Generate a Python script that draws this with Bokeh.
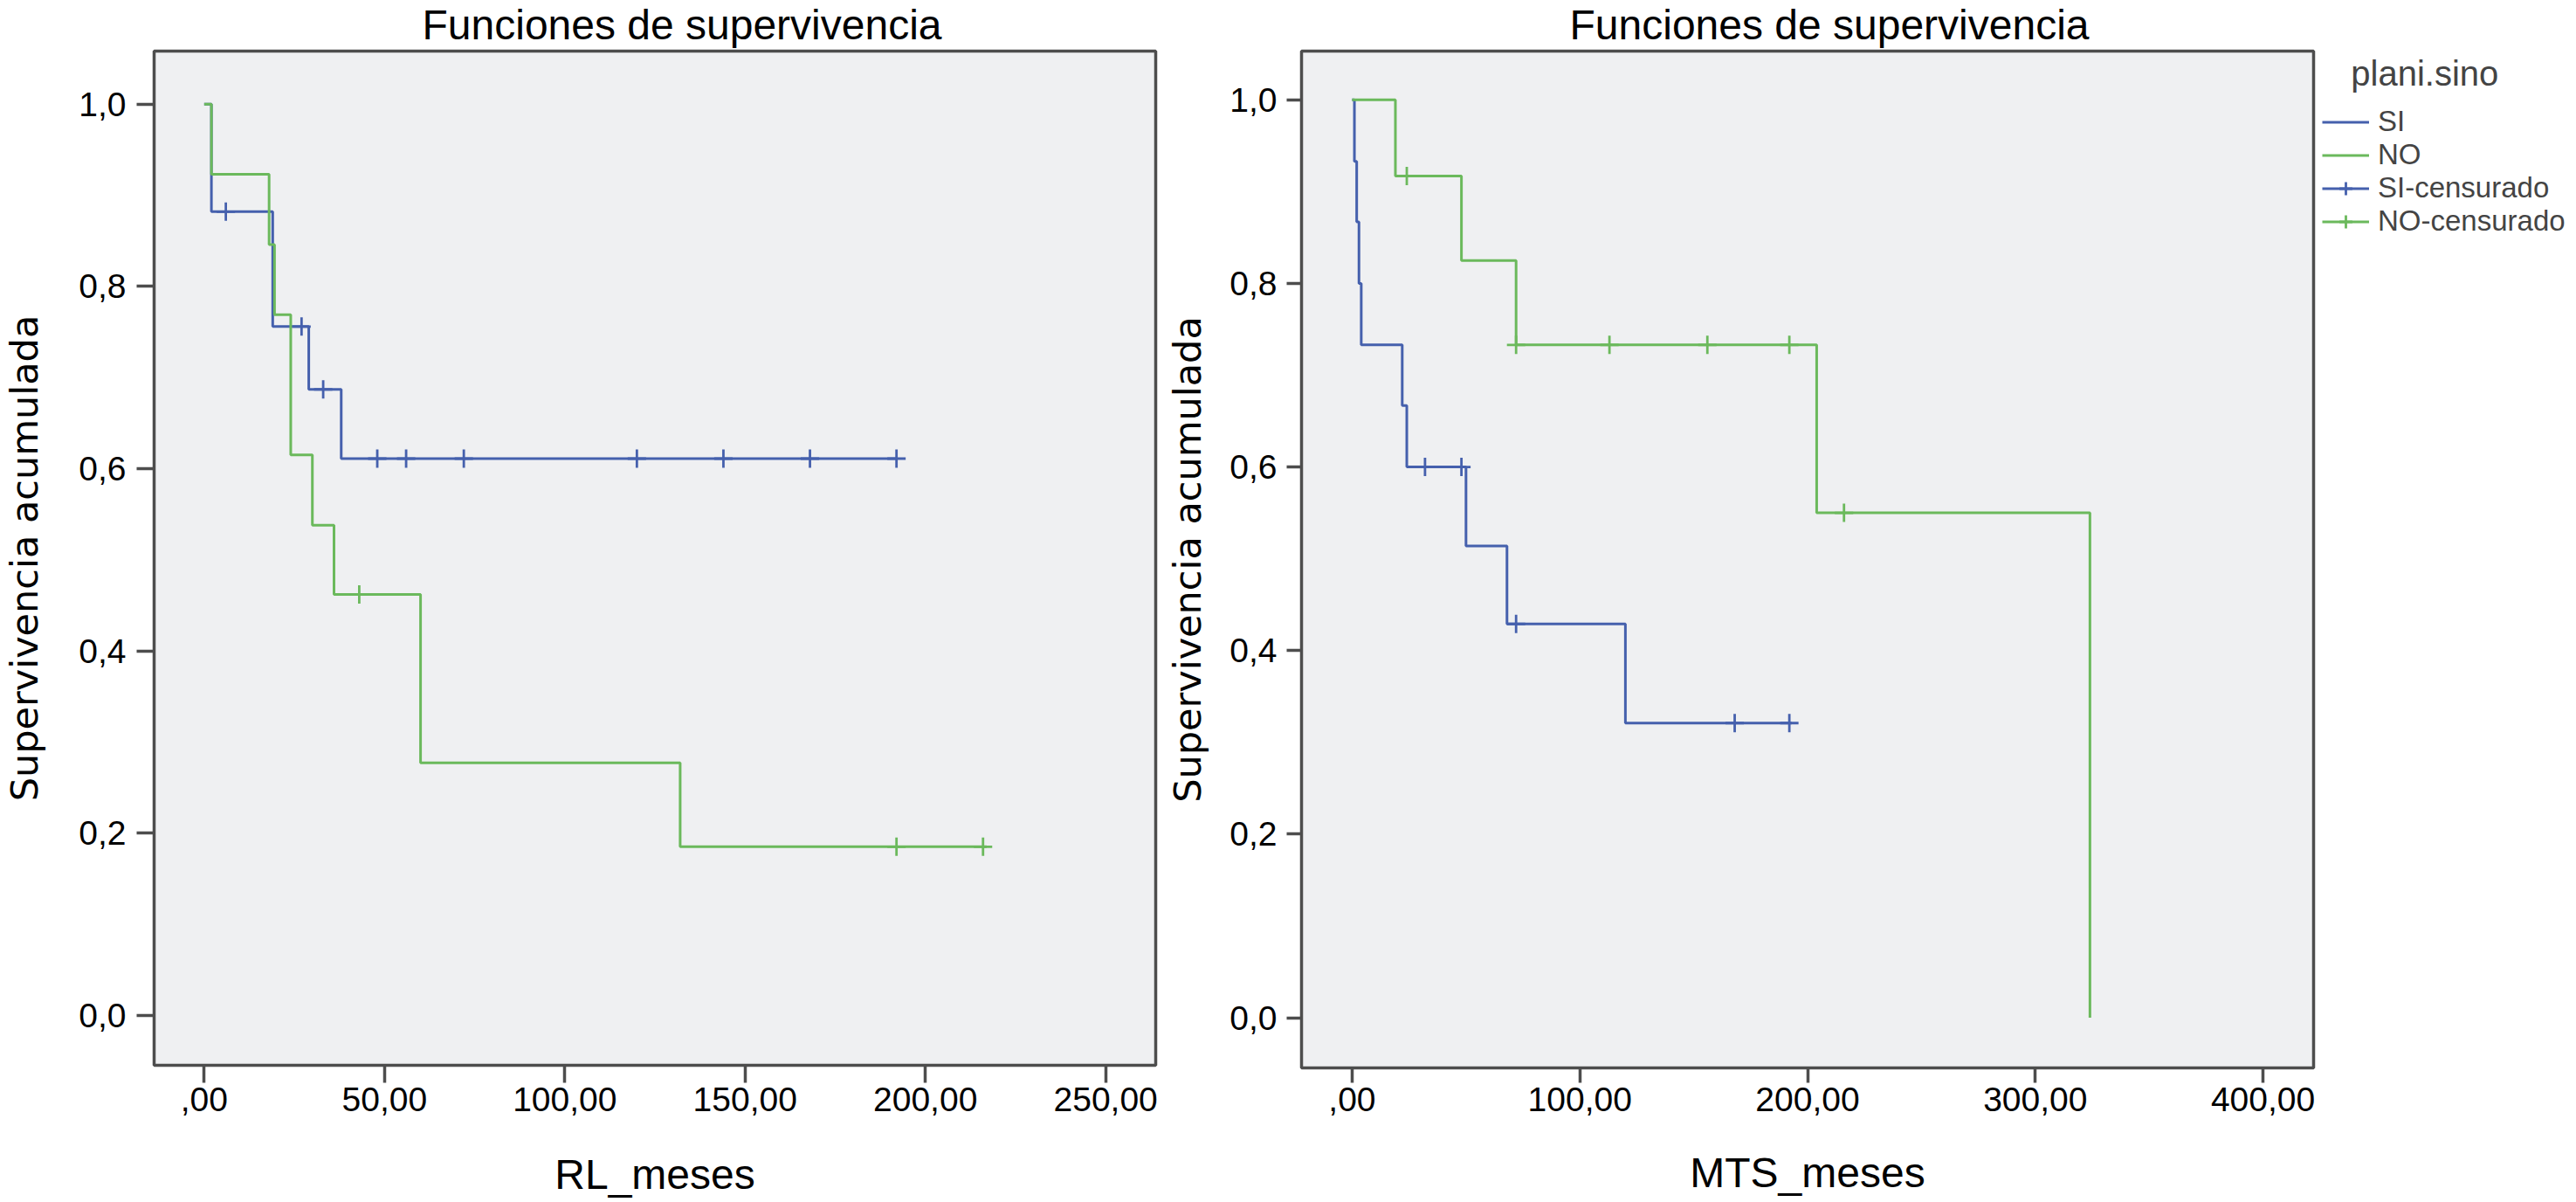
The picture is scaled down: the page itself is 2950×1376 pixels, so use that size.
from bokeh.plotting import figure
from bokeh.layouts import row
from bokeh.models import Legend, LegendItem, FixedTicker, Range1d
from bokeh.embed import file_html
from bokeh.resources import INLINE

# ---------------- data ----------------
# Left panel: RL_meses
rl_si_time = [0, 2, 19, 29, 38]
rl_si_surv = [1.0, 0.882, 0.756, 0.687, 0.611]
rl_si_last = 192
rl_si_cens_time = [6, 27, 33, 48, 56, 72, 120, 144, 168, 192]
rl_si_cens_surv = [0.882, 0.756, 0.687, 0.611, 0.611, 0.611, 0.611, 0.611, 0.611, 0.611]

rl_no_time = [0, 2, 18, 19.5, 24, 30, 36, 60, 132]
rl_no_surv = [1.0, 0.923, 0.846, 0.769, 0.615, 0.538, 0.462, 0.277, 0.185]
rl_no_last = 217
rl_no_cens_time = [43, 192, 216]
rl_no_cens_surv = [0.462, 0.185, 0.185]

# Right panel: MTS_meses
mts_si_time = [0, 1, 2, 3, 4, 22, 24, 50, 68, 120]
mts_si_surv = [1.0, 0.933, 0.867, 0.8, 0.733, 0.667, 0.6, 0.514, 0.429, 0.321]
mts_si_last = 193
mts_si_cens_time = [32, 48, 72, 168, 192]
mts_si_cens_surv = [0.6, 0.6, 0.429, 0.321, 0.321]

mts_no_time = [0, 19, 48, 72, 204, 324]
mts_no_surv = [1.0, 0.917, 0.825, 0.733, 0.55, 0.0]
mts_no_last = 324
mts_no_cens_time = [24, 72, 113, 156, 192, 216]
mts_no_cens_surv = [0.917, 0.733, 0.733, 0.733, 0.733, 0.55]

y_ticks = [0.0, 0.2, 0.4, 0.6, 0.8, 1.0]
y_tick_labels = ["0,0", "0,2", "0,4", "0,6", "0,8", "1,0"]
rl_x_ticks = [0, 50, 100, 150, 200, 250]
rl_x_tick_labels = [",00", "50,00", "100,00", "150,00", "200,00", "250,00"]
mts_x_ticks = [0, 100, 200, 300, 400]
mts_x_tick_labels = [",00", "100,00", "200,00", "300,00", "400,00"]

chart_title = "Funciones de supervivencia"
y_title = "Supervivencia acumulada"
rl_x_title = "RL_meses"
mts_x_title = "MTS_meses"
legend_title = "plani.sino"
group_names = ["SI", "NO"]

BLUE = "#4560AD"
GREEN = "#6BB95C"
DARK = "#4d4d4d"
BG = "#EFF0F2"
FONT = "Liberation Sans"


def make_fig(xmax, xticks, xlabels, xtitle, fw, fh, ylo, yhi, mb_left, mb_right, mb_bottom,
             tick_len, ylab_standoff, xlab_standoff, title_offset, title_standoff):
    pad_x = xmax / 18.0
    p = figure(frame_width=fw, frame_height=fh, output_backend="svg", toolbar_location=None,
               x_range=Range1d(-pad_x, xmax + pad_x), y_range=Range1d(ylo, yhi),
               min_border_left=mb_left, min_border_top=0, min_border_right=mb_right,
               min_border_bottom=mb_bottom)
    p.background_fill_color = BG
    p.border_fill_color = "white"
    p.outline_line_color = DARK
    p.outline_line_width = 3.5
    p.grid.visible = False

    p.title.text = chart_title
    p.title.text_font = FONT
    p.title.text_font_size = "48px"
    p.title.text_font_style = "normal"
    p.title.text_color = "black"
    p.title.align = "left"
    p.title.offset = title_offset
    p.title.vertical_align = "top"
    p.title.standoff = title_standoff

    p.xaxis.ticker = FixedTicker(ticks=xticks)
    p.xaxis.major_label_overrides = {t: l for t, l in zip(xticks, xlabels)}
    p.yaxis.ticker = FixedTicker(ticks=y_ticks)
    p.yaxis.major_label_overrides = {t: l for t, l in zip(y_ticks, y_tick_labels)}

    for ax in (p.xaxis[0], p.yaxis[0]):
        ax.axis_line_color = None
        ax.major_tick_in = 0
        ax.major_tick_out = tick_len
        ax.major_tick_line_color = DARK
        ax.major_tick_line_width = 3.5
        ax.minor_tick_line_color = None
        ax.major_label_text_font = FONT
        ax.major_label_text_font_size = "39px"
        ax.major_label_text_color = "black"
        ax.axis_label_text_font_style = "normal"
        ax.axis_label_text_color = "black"
    p.xaxis.major_label_standoff = 5
    p.yaxis.major_label_standoff = 12
    p.xaxis.axis_label = xtitle
    p.xaxis.axis_label_text_font = FONT
    p.xaxis.axis_label_text_font_size = "48px"
    p.xaxis.axis_label_standoff = xlab_standoff
    p.yaxis.axis_label = y_title
    p.yaxis.axis_label_text_font = "DejaVu Sans"
    p.yaxis.axis_label_text_font_size = "43px"
    p.yaxis.axis_label_standoff = ylab_standoff
    return p


def draw_group(p, time, surv, last, ctime, csurv, color):
    xs = list(time) + [last]
    ys = list(surv) + [surv[-1]]
    r_line = p.step(xs, ys, mode="after", line_color=color, line_width=3)
    r_cens = p.scatter(ctime, csurv, marker="cross", size=21, line_color=color, line_width=2.8)
    return r_line, r_cens


# ---------------- left figure ----------------
p1 = make_fig(250, rl_x_ticks, rl_x_tick_labels, rl_x_title, 1147, 1161, -0.0549, 1.0583,
              172, 7, 149, 20, 34, 43, 307, 3)
draw_group(p1, rl_si_time, rl_si_surv, rl_si_last, rl_si_cens_time, rl_si_cens_surv, BLUE)
draw_group(p1, rl_no_time, rl_no_surv, rl_no_last, rl_no_cens_time, rl_no_cens_surv, GREEN)

# ---------------- right figure ----------------
p2 = make_fig(400, mts_x_ticks, mts_x_tick_labels, mts_x_title, 1159, 1164, -0.0547, 1.0531,
              160, 290, 145, 17, 20, 41, 307, 3)
p2.yaxis.major_label_standoff = 11
s_line, s_cens = draw_group(p2, mts_si_time, mts_si_surv, mts_si_last,
                            mts_si_cens_time, mts_si_cens_surv, BLUE)
n_line, n_cens = draw_group(p2, mts_no_time, mts_no_surv, mts_no_last,
                            mts_no_cens_time, mts_no_cens_surv, GREEN)

legend = Legend(items=[
    LegendItem(label=group_names[0], renderers=[s_line]),
    LegendItem(label=group_names[1], renderers=[n_line]),
    LegendItem(label=group_names[0] + "-censurado", renderers=[s_line, s_cens]),
    LegendItem(label=group_names[1] + "-censurado", renderers=[n_line, n_cens]),
])
legend.location = (10, 950)
legend.margin = 0
legend.padding = 3
legend.border_line_color = None
legend.background_fill_alpha = 0
legend.title = "\u00a0\u00a0\u00a0" + legend_title
legend.title_text_font = FONT
legend.title_text_font_size = "40px"
legend.title_text_font_style = "normal"
legend.title_standoff = 13
legend.label_text_font = FONT
legend.label_text_font_size = "33px"
legend.glyph_width = 54
legend.glyph_height = 37
legend.label_height = 37
legend.label_standoff = 10
legend.spacing = 0
p2.add_layout(legend, "right")

layout = row(p1, p2)
open("out.html", "w").write(file_html(layout, INLINE))
